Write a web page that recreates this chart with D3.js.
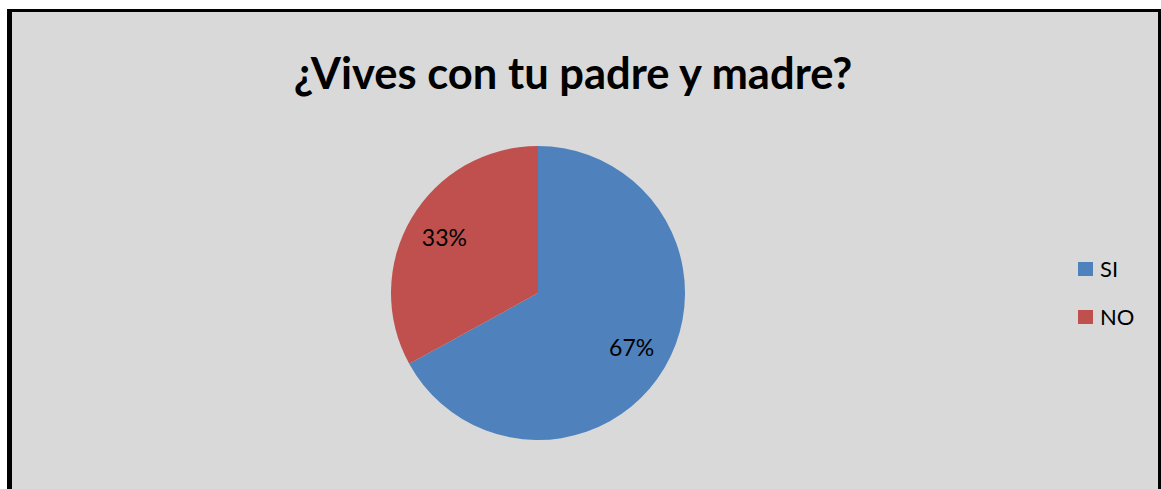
<!DOCTYPE html>
<html><head><meta charset="utf-8">
<script src="https://cdn.jsdelivr.net/npm/d3@7"></script>
<style>html,body{margin:0;padding:0;background:#fff;}svg{display:block;}</style>
</head><body>
<svg id="c" width="1161" height="489"></svg>
<script>
const categories = ["SI", "NO"];
const values = [67, 33];
const colors = ["#4f81bd", "#c0504d"];
const title = "¿Vives con tu padre y madre?";

const svg = d3.select("#c");
// frame
svg.append("rect").attr("x", 7).attr("y", 9).attr("width", 1154).attr("height", 480).attr("fill", "#000");
svg.append("rect").attr("x", 12).attr("y", 12).attr("width", 1146).attr("height", 477).attr("fill", "#d9d9d9");

svg.append("text").attr("x", 573).attr("y", 89).attr("text-anchor", "middle")
  .attr("font-family", "Lato, 'Open Sans', sans-serif").attr("font-weight", "bold")
  .attr("font-size", 43.5).attr("fill", "#000").text(title);

const cx = 538, cy = 293, r = 147;
const pie = d3.pie().sort(null).value(d => d)(values);
const arc = d3.arc().innerRadius(0).outerRadius(r);
const labelArc = d3.arc().innerRadius(r * 0.74).outerRadius(r * 0.74);
const total = d3.sum(values);
const g = svg.append("g").attr("transform", `translate(${cx},${cy})`);
g.selectAll("path").data(pie).join("path").attr("d", arc).attr("fill", (d, i) => colors[i]);
g.selectAll("text").data(pie).join("text")
  .attr("transform", d => `translate(${labelArc.centroid(d)})`)
  .attr("text-anchor", "middle").attr("dy", "0.35em")
  .attr("font-family", "Lato, 'Open Sans', sans-serif").attr("font-size", 23).attr("fill", "#000")
  .text(d => Math.round(d.data / total * 100) + "%");

const lg = svg.append("g");
const y0 = 262, step = 48;
categories.forEach((c, i) => {
  lg.append("rect").attr("x", 1078).attr("y", y0 + i * step).attr("width", 15).attr("height", 14).attr("fill", colors[i]);
  lg.append("text").attr("x", 1100).attr("y", y0 + i * step + 7).attr("dy", "0.36em")
    .attr("font-family", "Lato, 'Open Sans', sans-serif").attr("font-size", 22).attr("fill", "#000").text(c);
});
</script>
</body></html>
